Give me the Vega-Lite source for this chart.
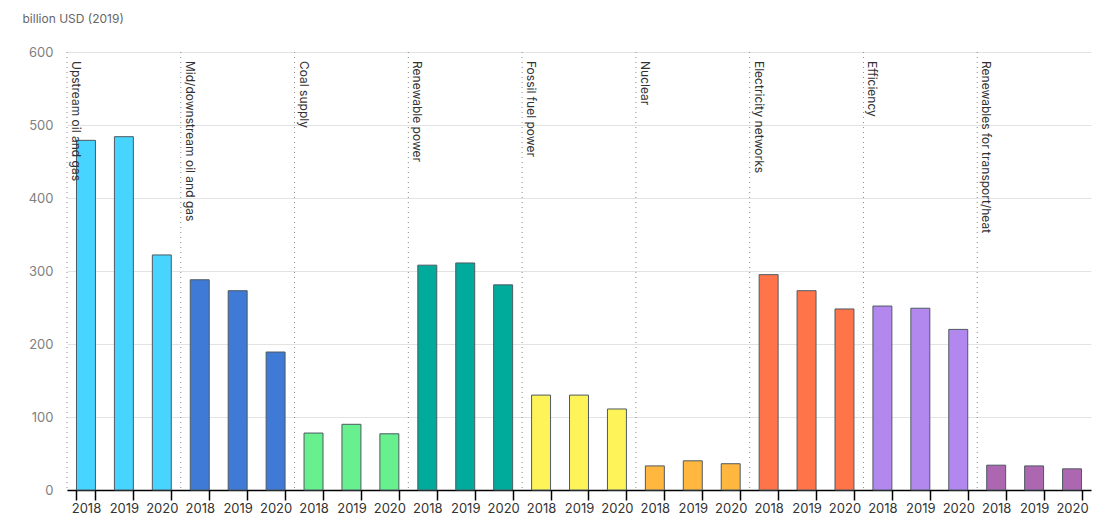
{
  "$schema": "https://vega.github.io/schema/vega-lite/v6.json",
  "autosize": "none",
  "width": 1024,
  "height": 438,
  "padding": {"left": 67, "top": 52, "right": 16, "bottom": 35},
  "config": {
    "font": "Inter",
    "view": {"stroke": null},
    "axis": {"labelFont": "Inter", "titleFont": "Inter"}
  },
  "data": {
    "values": [
      {"key": "Upstream oil and gas|2018", "cat": "Upstream oil and gas", "year": "2018", "value": 479},
      {"key": "Upstream oil and gas|2019", "cat": "Upstream oil and gas", "year": "2019", "value": 484},
      {"key": "Upstream oil and gas|2020", "cat": "Upstream oil and gas", "year": "2020", "value": 322},
      {"key": "Mid/downstream oil and gas|2018", "cat": "Mid/downstream oil and gas", "year": "2018", "value": 288},
      {"key": "Mid/downstream oil and gas|2019", "cat": "Mid/downstream oil and gas", "year": "2019", "value": 273},
      {"key": "Mid/downstream oil and gas|2020", "cat": "Mid/downstream oil and gas", "year": "2020", "value": 189},
      {"key": "Coal supply|2018", "cat": "Coal supply", "year": "2018", "value": 78},
      {"key": "Coal supply|2019", "cat": "Coal supply", "year": "2019", "value": 90},
      {"key": "Coal supply|2020", "cat": "Coal supply", "year": "2020", "value": 77},
      {"key": "Renewable power|2018", "cat": "Renewable power", "year": "2018", "value": 308},
      {"key": "Renewable power|2019", "cat": "Renewable power", "year": "2019", "value": 311},
      {"key": "Renewable power|2020", "cat": "Renewable power", "year": "2020", "value": 281},
      {"key": "Fossil fuel power|2018", "cat": "Fossil fuel power", "year": "2018", "value": 130},
      {"key": "Fossil fuel power|2019", "cat": "Fossil fuel power", "year": "2019", "value": 130},
      {"key": "Fossil fuel power|2020", "cat": "Fossil fuel power", "year": "2020", "value": 111},
      {"key": "Nuclear|2018", "cat": "Nuclear", "year": "2018", "value": 33},
      {"key": "Nuclear|2019", "cat": "Nuclear", "year": "2019", "value": 40},
      {"key": "Nuclear|2020", "cat": "Nuclear", "year": "2020", "value": 36},
      {"key": "Electricity networks|2018", "cat": "Electricity networks", "year": "2018", "value": 295},
      {"key": "Electricity networks|2019", "cat": "Electricity networks", "year": "2019", "value": 273},
      {"key": "Electricity networks|2020", "cat": "Electricity networks", "year": "2020", "value": 248},
      {"key": "Efficiency|2018", "cat": "Efficiency", "year": "2018", "value": 252},
      {"key": "Efficiency|2019", "cat": "Efficiency", "year": "2019", "value": 249},
      {"key": "Efficiency|2020", "cat": "Efficiency", "year": "2020", "value": 220},
      {"key": "Renewables for transport/heat|2018", "cat": "Renewables for transport/heat", "year": "2018", "value": 34},
      {"key": "Renewables for transport/heat|2019", "cat": "Renewables for transport/heat", "year": "2019", "value": 33},
      {"key": "Renewables for transport/heat|2020", "cat": "Renewables for transport/heat", "year": "2020", "value": 29}
    ]
  },
  "encoding": {
    "x": {
      "field": "key",
      "type": "nominal",
      "sort": null,
      "scale": {"paddingInner": 0.5, "paddingOuter": 0.25},
      "axis": {
        "title": null,
        "labelAngle": 0,
        "labelExpr": "split(datum.label, '|')[1]",
        "tickBand": "extent",
        "tickExtra": true,
        "domainColor": "#000000",
        "domainWidth": 1.5,
        "tickColor": "#000000",
        "tickWidth": 1.5,
        "tickSize": 10,
        "labelPadding": 2,
        "labelColor": "#333333",
        "labelFontSize": 13,
        "labelFont": "Inter"
      }
    }
  },
  "layer": [
    {
      "mark": {"type": "bar", "stroke": "#4d5a63", "strokeWidth": 1},
      "encoding": {
        "y": {
          "field": "value",
          "type": "quantitative",
          "scale": {"domain": [0, 600]},
          "axis": {
            "values": [0, 100, 200, 300, 400, 500, 600],
            "title": "billion USD (2019)",
            "titleAngle": 0,
            "titleAlign": "left",
            "titleBaseline": "middle",
            "titleX": -45,
            "titleY": -34,
            "titleFontWeight": "normal",
            "titleFontSize": 12,
            "titleColor": "#666666",
            "domain": false,
            "ticks": false,
            "labelPadding": 14,
            "labelColor": "#808080",
            "labelFontSize": 13,
            "gridColor": "#e3e3e3",
            "gridWidth": 1
          }
        },
        "color": {
          "field": "cat",
          "type": "nominal",
          "legend": null,
          "scale": {
            "domain": ["Upstream oil and gas", "Mid/downstream oil and gas", "Coal supply", "Renewable power", "Fossil fuel power", "Nuclear", "Electricity networks", "Efficiency", "Renewables for transport/heat"],
            "range": ["#47d4ff", "#3f7ad6", "#68f08f", "#00ab9c", "#fff35a", "#ffb73f", "#ff7549", "#b388ee", "#ad67b0"]
          }
        }
      }
    },
    {
      "transform": [{"filter": "datum.year == '2018'"}],
      "mark": {"type": "rule", "stroke": "#8a8a8a", "strokeDash": [1, 4], "strokeWidth": 1},
      "encoding": {
        "x": {"field": "key", "type": "nominal", "sort": null, "bandPosition": -0.5}
      }
    },
    {
      "transform": [{"filter": "datum.year == '2018'"}],
      "mark": {"type": "text", "angle": 90, "align": "left", "baseline": "bottom", "fontSize": 12, "color": "#333333", "dx": 9, "dy": -2},
      "encoding": {
        "x": {"field": "key", "type": "nominal", "sort": null, "bandPosition": -0.5},
        "y": {"datum": 600},
        "text": {"field": "cat"}
      }
    }
  ]
}
